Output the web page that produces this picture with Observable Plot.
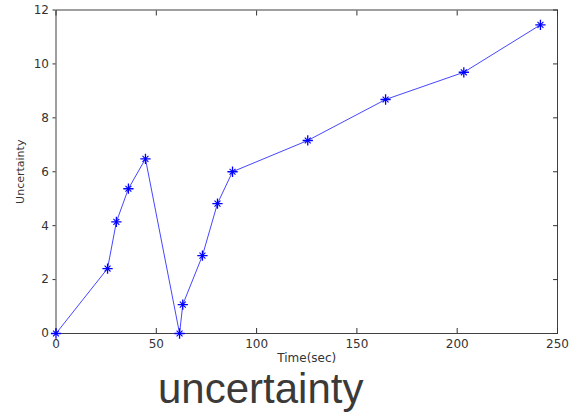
<!DOCTYPE html>
<html>
<head>
<meta charset="utf-8">
<script src="https://cdn.jsdelivr.net/npm/d3@7"></script>
<script src="https://cdn.jsdelivr.net/npm/@observablehq/plot@0.6"></script>
<style>
  html, body { margin: 0; padding: 0; background: #fff; }
  #wrap { position: relative; width: 570px; height: 416px; overflow: hidden; }
  #caption { position: absolute; left: 158px; top: 368px; font-family: "Liberation Sans", Arial, sans-serif; font-size: 42px; line-height: 42px; color: #3c3a38; white-space: nowrap; }
</style>
</head>
<body>
<div id="wrap"><div id="chart"></div><div id="caption">uncertainty</div></div>
<script>
const timeSec = [0, 25.7, 30.1, 36.1, 44.6, 61.6, 63.2, 73.0, 80.5, 88.0, 125.5, 164.3, 203.3, 241.5];
const uncertainty = [0, 2.41, 4.14, 5.37, 6.48, 0, 1.07, 2.89, 4.82, 6.0, 7.16, 8.68, 9.69, 11.45];
const xTicks = [0, 50, 100, 150, 200, 250];
const yTicks = [0, 2, 4, 6, 8, 10, 12];
const data = timeSec.map((t, i) => ({t, u: uncertainty[i]}));
const blank = () => "";
const font = "DejaVu Sans, Verdana, sans-serif";

const chart = Plot.plot({
  width: 570,
  height: 372,
  marginLeft: 55.5,
  marginRight: 13,
  marginTop: 9.5,
  marginBottom: 39,
  style: {fontFamily: font, fontSize: "12px", color: "#333", background: "#fff"},
  x: {domain: [0, 250]},
  y: {domain: [0, 12]},
  marks: [
    Plot.frame({stroke: "#404040", strokeWidth: 1}),
    Plot.axisX(xTicks, {anchor: "bottom", tickSize: 0, tickPadding: 6, fontSize: 12, fill: "#333", label: null}),
    Plot.axisX(xTicks, {anchor: "bottom", tickSize: -5, tickFormat: blank, label: null}),
    Plot.axisX(xTicks, {anchor: "top", tickSize: -5, tickFormat: blank, label: null}),
    Plot.axisY(yTicks, {anchor: "left", tickSize: 3, tickPadding: 4, fontSize: 12, fill: "#333", label: null}),
    Plot.axisY(yTicks, {anchor: "right", tickSize: -5, tickFormat: blank, label: null}),
    Plot.axisX({anchor: "bottom", ticks: [], label: "Time(sec)", labelAnchor: "center", labelArrow: "none", labelOffset: 28, fontSize: 12, fill: "#333"}),
    Plot.axisY({anchor: "left", ticks: [], label: "Uncertainty", labelAnchor: "center", labelArrow: "none", labelOffset: 40, fontSize: 11, fill: "#333"}),
    Plot.line(data, {x: "t", y: "u", stroke: "#4646ff", strokeWidth: 1}),
    Plot.dot(data, {x: "t", y: "u", symbol: "plus", r: 3.4, stroke: "#0000ff", strokeWidth: 1.3}),
    Plot.dot(data, {x: "t", y: "u", symbol: "times", r: 2.8, stroke: "#0000ff", strokeWidth: 1.1})
  ]
});
document.getElementById("chart").appendChild(chart);
</script>
</body>
</html>
